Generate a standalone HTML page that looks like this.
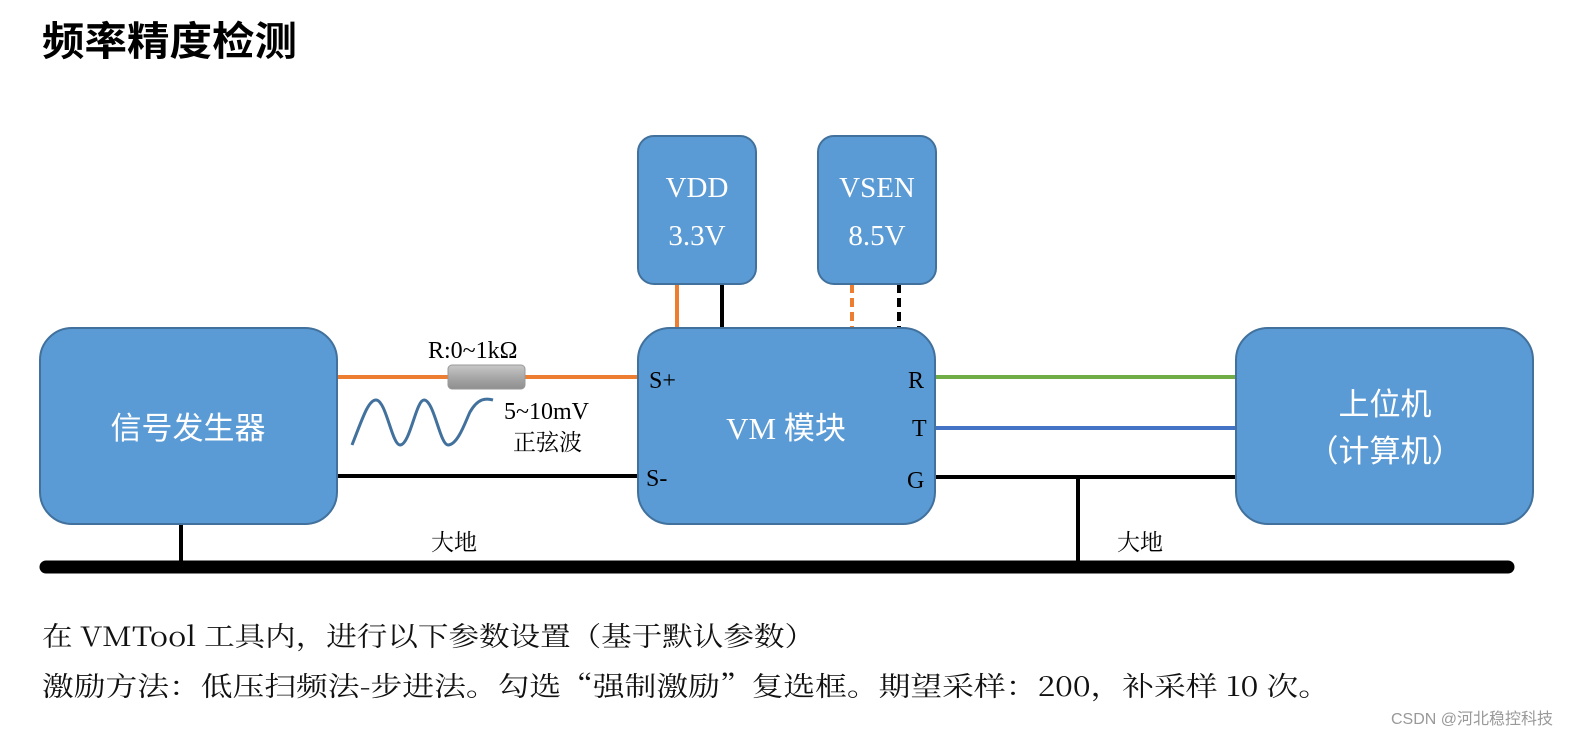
<!DOCTYPE html>
<html><head><meta charset="utf-8"><style>
body{margin:0;background:#fff;}
svg{display:block}
</style></head><body>
<svg width="1571" height="737" viewBox="0 0 1571 737" xmlns="http://www.w3.org/2000/svg">
<defs><linearGradient id="rg" x1="0" y1="0" x2="0" y2="1"><stop offset="0" stop-color="#c8c8c8"/><stop offset="0.5" stop-color="#a8a8a8"/><stop offset="1" stop-color="#8e8e8e"/></linearGradient></defs>
<text x="42" y="55" font-family="'Noto Sans CJK SC',sans-serif" font-weight="bold" font-size="40" textLength="255" lengthAdjust="spacingAndGlyphs" fill="#000">频率精度检测</text>
<g stroke-width="4" fill="none">
<line x1="337" y1="377" x2="638" y2="377" stroke="#ed7d31"/>
<line x1="337" y1="476" x2="638" y2="476" stroke="#000"/>
<line x1="935" y1="377" x2="1236" y2="377" stroke="#70ad47"/>
<line x1="935" y1="428" x2="1236" y2="428" stroke="#4472c4"/>
<line x1="935" y1="477" x2="1236" y2="477" stroke="#000"/>
<line x1="677" y1="284" x2="677" y2="328" stroke="#ed7d31"/>
<line x1="722" y1="284" x2="722" y2="328" stroke="#000"/>
<line x1="852" y1="284" x2="852" y2="328" stroke="#ed7d31" stroke-dasharray="9,5"/>
<line x1="899" y1="284" x2="899" y2="328" stroke="#000" stroke-dasharray="9,5"/>
<line x1="181" y1="524" x2="181" y2="567" stroke="#000"/>
<line x1="1078" y1="477" x2="1078" y2="567" stroke="#000"/>
</g>
<line x1="46" y1="567" x2="1508" y2="567" stroke="#000" stroke-width="13" stroke-linecap="round"/>
<rect x="448" y="365" width="77" height="24" rx="4" fill="url(#rg)" stroke="#999"/>
<path d="M352,445 C362,420 368,400 376,400 C386,400 392,445 400,445 C410,445 416,400 424,400 C434,400 440,445 448,445 C458,445 466,420 470,412 C478,398 486,398 493,400" stroke="#41719c" stroke-width="3" fill="none"/>
<g fill="#5b9bd5" stroke="#41719c" stroke-width="2">
<rect x="638" y="136" width="118" height="148" rx="16"/>
<rect x="818" y="136" width="118" height="148" rx="16"/>
<rect x="40" y="328" width="297" height="196" rx="32"/>
<rect x="638" y="328" width="297" height="196" rx="32"/>
<rect x="1236" y="328" width="297" height="196" rx="32"/>
</g>
<g font-family="'Liberation Serif','Noto Serif CJK SC',serif" fill="#fff" font-size="29" text-anchor="middle">
<text x="697" y="197">VDD</text><text x="697" y="245">3.3V</text>
<text x="877" y="197">VSEN</text><text x="877" y="245">8.5V</text>
<text x="188" y="439" font-family="'Noto Sans CJK SC',sans-serif" font-size="31">信号发生器</text>
<text x="786" y="439" font-size="31"><tspan font-family="'Liberation Serif',serif">VM </tspan><tspan font-family="'Noto Sans CJK SC',sans-serif">模块</tspan></text>
<text x="1385" y="415" font-family="'Noto Sans CJK SC',sans-serif" font-size="31">上位机</text>
<text x="1385" y="462" font-family="'Noto Sans CJK SC',sans-serif" font-size="31">（计算机）</text>
</g>
<g font-family="'Liberation Serif','Noto Serif CJK SC',serif" fill="#000" font-size="24">
<text x="649" y="388">S+</text><text x="646" y="486">S-</text>
<text x="908" y="388">R</text><text x="912" y="436">T</text><text x="907" y="488">G</text>
<text x="428" y="358">R:0~1kΩ</text>
<text x="504" y="419">5~10mV</text>
<text x="513" y="450" font-family="'Noto Serif CJK SC',serif" font-size="23">正弦波</text>
<text x="431" y="550" font-family="'Noto Serif CJK SC',serif" font-size="23">大地</text>
<text x="1117" y="550" font-family="'Noto Serif CJK SC',serif" font-size="23">大地</text>
</g>
<g font-family="'Noto Serif CJK SC','Liberation Mono',serif" fill="#111" font-size="27">
<text x="42" y="646" textLength="773" lengthAdjust="spacingAndGlyphs">在 VMTool 工具内，进行以下参数设置（基于默认参数）</text>
<text x="42" y="696" textLength="1288" lengthAdjust="spacingAndGlyphs">激励方法：低压扫频法-步进法。勾选“强制激励”复选框。期望采样：200，补采样 10 次。</text>
</g>
<text x="1553" y="724" text-anchor="end" font-family="'Liberation Sans','Noto Sans CJK SC',sans-serif" font-size="16" fill="#999">CSDN @河北稳控科技</text>
</svg>
</body></html>
